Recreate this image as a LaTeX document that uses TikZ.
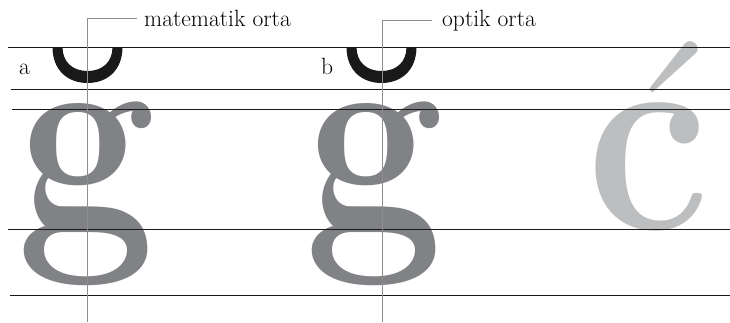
\documentclass[tikz,border=0pt]{standalone}
\usepackage{fontspec}
\usetikzlibrary{positioning}
\definecolor{glyphgray}{HTML}{808285}
\definecolor{accentgray}{HTML}{BCBEC0}
\definecolor{axisgray}{HTML}{8E8E8E}
\tikzset{plan/.style={
  x=1pt,y=-1pt,
  line join=round
},
  guide/.style={draw=black!90,line width=0.9pt},
  axis/.style={draw=axisgray,line width=0.8pt},
  bigglyph/.style={inner sep=0pt,anchor=base,font=\fontsize{280}{280}\selectfont\bfseries},
  caption/.style={inner sep=0pt,anchor=base west,font=\fontsize{23.5}{28}\selectfont}
}
\newcommand\squeezed[1]{\scalebox{0.885}[1]{#1}}

\begin{document}
\begin{tikzpicture}[plan]
  \useasboundingbox (0,0) rectangle (730,322);

  % letters
  \node[bigglyph,text=glyphgray] (gmath) at (86,229) {\squeezed{g}};
  \node[bigglyph,text=glyphgray] (gopt) at (374.5,229) {\squeezed{g}};
  \node[bigglyph,text=accentgray] (cbase) at (648,229) {\squeezed{c}};
  \node[bigglyph,text=accentgray,font=\fontsize{280}{280}\selectfont\mdseries] (acute) at (666,236) {\makebox[60pt]{\char"00B4}};

  % breves
  \foreach \c in {87.5,381.5}
    \fill[black!90,shift={(\c,0)}] (-35,47) .. controls (-35,70) and (-20,83) .. (0,83)
      .. controls (20,83) and (35,70) .. (35,47) -- (25,47)
      .. controls (25,62) and (15,71) .. (0,71)
      .. controls (-15,71) and (-25,62) .. (-25,47) -- cycle;

  % guide lines
  \foreach \y/\x in {47/8,89/11,109/12,229/8,295/10}
    \draw[guide] (\x,\y) -- (730,\y);

  \node[caption] (alabel) at (19,74) {a};
  \node[caption] (blabel) at (321,74) {b};

  % centre axes
  \node[caption] (mlabel) at (144,26) {matematik orta};
  \node[caption] (olabel) at (442,26) {optik orta};
  \coordinate (mfoot) at (87.5,322);
  \coordinate (ofoot) at (382,322);
  \draw[axis] (mfoot) |- ([xshift=-7pt]mlabel.west);
  \draw[axis] (ofoot) |- ([xshift=-10pt]olabel.west);
\end{tikzpicture}
\end{document}
